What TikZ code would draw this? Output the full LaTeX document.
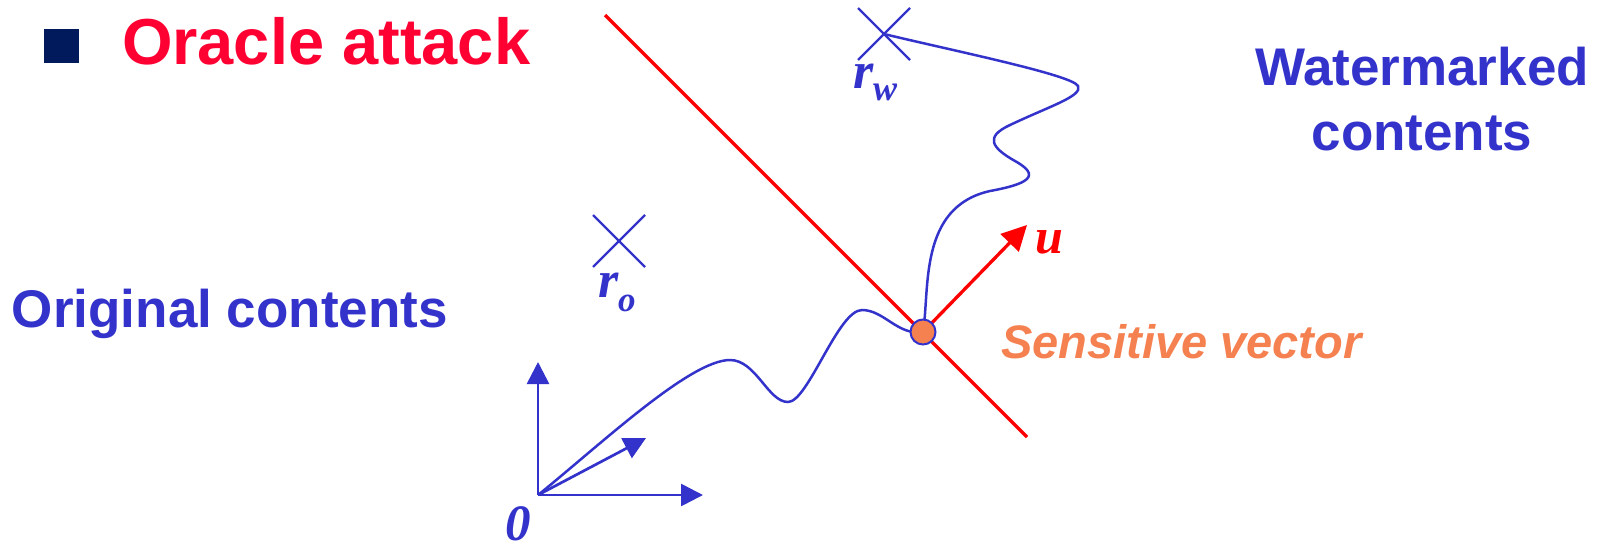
\documentclass[tikz,border=0pt]{standalone}
\usepackage{fontspec}
\setmainfont{Liberation Sans}
\newfontfamily\tnr{Liberation Serif}
\usetikzlibrary{arrows.meta,shapes.misc}
\definecolor{cblue}{RGB}{51,51,204}
\definecolor{cred}{RGB}{255,0,0}
\definecolor{ctitle}{RGB}{255,0,51}
\definecolor{corange}{RGB}{245,128,80}
\definecolor{cnavy}{RGB}{0,26,92}
\begin{document}
\begin{tikzpicture}[x=1pt,y=-1pt,
  lbl/.style={inner sep=0pt, outer sep=0pt, anchor=base west},
  axisarrow/.style={draw=cblue, line width=2.7pt, -{Triangle[length=22pt,width=22pt]}},
  redline/.style={draw=cred, line width=3.3pt},
  xmark/.style={cross out, draw=cblue, line width=2.4pt, minimum width=52pt, minimum height=52pt, inner sep=0pt, outer sep=0pt},
  walk/.style={draw=cblue, line width=2.5pt},
  sans/.style={font=\fontsize{#1}{#1}\selectfont\bfseries},
  serif/.style={font=\fontsize{#1}{#1}\selectfont\tnr\bfseries\itshape},
]
\useasboundingbox (0,0) rectangle (1597,547);
% title
\fill[cnavy] (44,29) rectangle (79,63);
\node[lbl, sans=65, text=ctitle] (title) at (122,64) {Oracle attack};
% hyperplane
\coordinate (hA) at (605,15);
\coordinate (hB) at (1027,437);
\draw[redline] (hA) -- (hB);
% points
\node[xmark] (rw) at (884,34) {};
\node[xmark] (ro) at (619,241) {};
\node[lbl, serif=52, text=cblue] (rwl) at (853,88) {r\raisebox{-12pt}{\fontsize{36}{36}\selectfont w}};
\node[lbl, serif=52, text=cblue] (rol) at (598,297) {r\raisebox{-14pt}{\fontsize{35}{35}\selectfont o}};
% axes
\coordinate (O) at (538,495);
\coordinate (yTip) at (538,362);
\coordinate (xTip) at (703,495);
\coordinate (dTip) at (646,438);
\draw[axisarrow] (O) -- (yTip);
\draw[axisarrow] (O) -- (xTip);
\draw[axisarrow] (O) -- (dTip);
\node[lbl, serif=51, text=cblue] (zero) at (505,540) {0};
% sensitive vector
\coordinate (sv0) at (923,332);
\coordinate (uTip) at (1027,225);
\draw[redline, -{Triangle[length=25pt,width=25pt]}] (sv0) -- (uTip);
% walks
\draw[walk] (O) .. controls (600,445) and (690,360) .. (730,360)
  .. controls (756,360) and (768,402) .. (788,402)
  .. controls (808,402) and (838,310) .. (862,310)
  .. controls (884,310) and (898,336) .. (sv0);
\draw[walk] (sv0) .. controls (930,290) and (918,207) .. (990,191)
  .. controls (1028,184) and (1042,176) .. (1015,161)
  .. controls (992,148) and (984,137) .. (1010,125)
  .. controls (1050,106) and (1083,96) .. (1078,86)
  .. controls (1073,75) and (950,50) .. (rw.center);
\node[circle, fill=corange, draw=cblue, line width=2pt, minimum size=25pt, inner sep=0pt] (sv) at (sv0) {};
\node[lbl, serif=50, text=cred] (ul) at (1035,253) {u};
\node[lbl, font=\fontsize{47}{47}\selectfont\bfseries\itshape, text=corange] (svl) at (1001,358) {Sensitive vector};
% region labels
\node[lbl, sans=53, text=cblue] (orig) at (12,327) {Original contents};
\node[inner sep=0pt, anchor=base, sans=53, text=cblue] (wmA) at (1422,85) {Watermarked};
\node[inner sep=0pt, anchor=base, sans=53, text=cblue] (wmB) at (1422,150) {contents};
\end{tikzpicture}
\end{document}
